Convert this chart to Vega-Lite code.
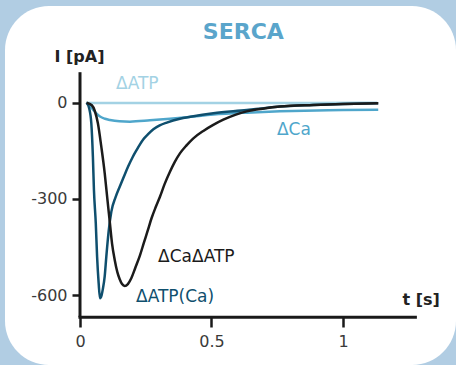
{
  "$schema": "https://vega.github.io/schema/vega-lite/v6.json",
  "width": 451,
  "height": 359,
  "autosize": "none",
  "padding": {"left": 5, "top": 6, "right": 0, "bottom": 0},
  "background": "#b1cde3",
  "view": {"fill": "white", "stroke": null, "cornerRadius": 44},
  "config": {"font": "DejaVu Sans"},
  "datasets": {
    "curves": [
      {"s": "ΔATP", "t": 0.025, "I": 0},
      {"s": "ΔATP", "t": 0.1, "I": -1},
      {"s": "ΔATP", "t": 0.3, "I": -1},
      {"s": "ΔATP", "t": 0.6, "I": -1},
      {"s": "ΔATP", "t": 0.9, "I": -1},
      {"s": "ΔATP", "t": 1.13, "I": 0},

      {"s": "ΔCa", "t": 0.025, "I": 0},
      {"s": "ΔCa", "t": 0.04, "I": -12},
      {"s": "ΔCa", "t": 0.051, "I": -23},
      {"s": "ΔCa", "t": 0.063, "I": -34},
      {"s": "ΔCa", "t": 0.076, "I": -43},
      {"s": "ΔCa", "t": 0.095, "I": -50},
      {"s": "ΔCa", "t": 0.114, "I": -54},
      {"s": "ΔCa", "t": 0.15, "I": -58},
      {"s": "ΔCa", "t": 0.19, "I": -59},
      {"s": "ΔCa", "t": 0.266, "I": -55},
      {"s": "ΔCa", "t": 0.342, "I": -50},
      {"s": "ΔCa", "t": 0.42, "I": -44},
      {"s": "ΔCa", "t": 0.507, "I": -37},
      {"s": "ΔCa", "t": 0.634, "I": -31},
      {"s": "ΔCa", "t": 0.76, "I": -27},
      {"s": "ΔCa", "t": 0.9, "I": -24},
      {"s": "ΔCa", "t": 1.0, "I": -23},
      {"s": "ΔCa", "t": 1.134, "I": -22},

      {"s": "ΔATP(Ca)", "t": 0.025, "I": 0},
      {"s": "ΔATP(Ca)", "t": 0.035, "I": -18},
      {"s": "ΔATP(Ca)", "t": 0.043, "I": -64},
      {"s": "ΔATP(Ca)", "t": 0.049, "I": -168},
      {"s": "ΔATP(Ca)", "t": 0.053, "I": -272},
      {"s": "ΔATP(Ca)", "t": 0.06, "I": -376},
      {"s": "ΔATP(Ca)", "t": 0.065, "I": -480},
      {"s": "ΔATP(Ca)", "t": 0.071, "I": -563},
      {"s": "ΔATP(Ca)", "t": 0.076, "I": -609},
      {"s": "ΔATP(Ca)", "t": 0.082, "I": -600},
      {"s": "ΔATP(Ca)", "t": 0.087, "I": -580},
      {"s": "ΔATP(Ca)", "t": 0.094, "I": -540},
      {"s": "ΔATP(Ca)", "t": 0.1, "I": -480},
      {"s": "ΔATP(Ca)", "t": 0.109, "I": -400},
      {"s": "ΔATP(Ca)", "t": 0.119, "I": -340},
      {"s": "ΔATP(Ca)", "t": 0.135, "I": -295},
      {"s": "ΔATP(Ca)", "t": 0.151, "I": -262},
      {"s": "ΔATP(Ca)", "t": 0.167, "I": -230},
      {"s": "ΔATP(Ca)", "t": 0.183, "I": -199},
      {"s": "ΔATP(Ca)", "t": 0.2, "I": -170},
      {"s": "ΔATP(Ca)", "t": 0.215, "I": -148},
      {"s": "ΔATP(Ca)", "t": 0.228, "I": -130},
      {"s": "ΔATP(Ca)", "t": 0.241, "I": -114},
      {"s": "ΔATP(Ca)", "t": 0.258, "I": -99},
      {"s": "ΔATP(Ca)", "t": 0.279, "I": -83},
      {"s": "ΔATP(Ca)", "t": 0.303, "I": -71},
      {"s": "ΔATP(Ca)", "t": 0.33, "I": -62},
      {"s": "ΔATP(Ca)", "t": 0.38, "I": -50},
      {"s": "ΔATP(Ca)", "t": 0.42, "I": -44},
      {"s": "ΔATP(Ca)", "t": 0.507, "I": -33},
      {"s": "ΔATP(Ca)", "t": 0.634, "I": -23},
      {"s": "ΔATP(Ca)", "t": 0.7, "I": -17},
      {"s": "ΔATP(Ca)", "t": 0.76, "I": -12},
      {"s": "ΔATP(Ca)", "t": 0.887, "I": -7},
      {"s": "ΔATP(Ca)", "t": 1.0, "I": -4},
      {"s": "ΔATP(Ca)", "t": 1.134, "I": -2},

      {"s": "ΔCaΔATP", "t": 0.025, "I": 0},
      {"s": "ΔCaΔATP", "t": 0.045, "I": -8},
      {"s": "ΔCaΔATP", "t": 0.056, "I": -25},
      {"s": "ΔCaΔATP", "t": 0.068, "I": -64},
      {"s": "ΔCaΔATP", "t": 0.081, "I": -137},
      {"s": "ΔCaΔATP", "t": 0.094, "I": -220},
      {"s": "ΔCaΔATP", "t": 0.104, "I": -300},
      {"s": "ΔCaΔATP", "t": 0.113, "I": -370},
      {"s": "ΔCaΔATP", "t": 0.122, "I": -440},
      {"s": "ΔCaΔATP", "t": 0.132, "I": -490},
      {"s": "ΔCaΔATP", "t": 0.142, "I": -528},
      {"s": "ΔCaΔATP", "t": 0.151, "I": -550},
      {"s": "ΔCaΔATP", "t": 0.16, "I": -565},
      {"s": "ΔCaΔATP", "t": 0.17, "I": -571},
      {"s": "ΔCaΔATP", "t": 0.182, "I": -565},
      {"s": "ΔCaΔATP", "t": 0.195, "I": -547},
      {"s": "ΔCaΔATP", "t": 0.21, "I": -515},
      {"s": "ΔCaΔATP", "t": 0.227, "I": -478},
      {"s": "ΔCaΔATP", "t": 0.243, "I": -436},
      {"s": "ΔCaΔATP", "t": 0.258, "I": -397},
      {"s": "ΔCaΔATP", "t": 0.272, "I": -360},
      {"s": "ΔCaΔATP", "t": 0.288, "I": -325},
      {"s": "ΔCaΔATP", "t": 0.304, "I": -293},
      {"s": "ΔCaΔATP", "t": 0.322, "I": -253},
      {"s": "ΔCaΔATP", "t": 0.342, "I": -215},
      {"s": "ΔCaΔATP", "t": 0.36, "I": -185},
      {"s": "ΔCaΔATP", "t": 0.38, "I": -158},
      {"s": "ΔCaΔATP", "t": 0.405, "I": -133},
      {"s": "ΔCaΔATP", "t": 0.431, "I": -111},
      {"s": "ΔCaΔATP", "t": 0.469, "I": -88},
      {"s": "ΔCaΔATP", "t": 0.505, "I": -70},
      {"s": "ΔCaΔATP", "t": 0.545, "I": -53},
      {"s": "ΔCaΔATP", "t": 0.59, "I": -38},
      {"s": "ΔCaΔATP", "t": 0.634, "I": -27},
      {"s": "ΔCaΔATP", "t": 0.7, "I": -18},
      {"s": "ΔCaΔATP", "t": 0.76, "I": -12},
      {"s": "ΔCaΔATP", "t": 0.887, "I": -7},
      {"s": "ΔCaΔATP", "t": 1.0, "I": -4},
      {"s": "ΔCaΔATP", "t": 1.134, "I": -2}
    ],
    "labels": [
      {"s": "ΔATP", "t": 0.137, "I": 58, "label": "ΔATP"},
      {"s": "ΔCa", "t": 0.749, "I": -86, "label": "ΔCa"},
      {"s": "ΔCaΔATP", "t": 0.297, "I": -481, "label": "ΔCaΔATP"},
      {"s": "ΔATP(Ca)", "t": 0.213, "I": -606, "label": "ΔATP(Ca)"}
    ]
  },
  "layer": [
    {
      "data": {"values": [{}]},
      "mark": {"type": "rule", "color": "#1a1a1a", "strokeWidth": 3},
      "encoding": {
        "x": {"datum": 0, "type": "quantitative", "scale": {"domain": [-0.2852, 1.4297], "nice": false, "zero": false},
          "axis": {"values": [0, 0.5, 1], "offset": -48, "domain": false, "grid": false, "tickSize": 10, "tickWidth": 2.5, "tickColor": "#1a1a1a", "labelFontSize": 16, "labelColor": "#3a3a3a", "labelPadding": 6, "labelExpr": "datum.value + ''", "title": null}},
        "y": {"datum": 95, "type": "quantitative", "scale": {"domain": [-817.1, 301.2], "nice": false, "zero": false},
          "axis": {"values": [0, -300, -600], "offset": -75, "domain": false, "grid": false, "tickSize": 8, "tickWidth": 2.5, "tickColor": "#1a1a1a", "labelFontSize": 16, "labelColor": "#3a3a3a", "labelPadding": 5, "labelExpr": "datum.value + ''", "title": null}},
        "y2": {"datum": -668}
      }
    },
    {
      "data": {"values": [{}]},
      "mark": {"type": "rule", "color": "#1a1a1a", "strokeWidth": 3},
      "encoding": {
        "x": {"datum": -0.006, "type": "quantitative"},
        "x2": {"datum": 1.281},
        "y": {"datum": -668, "type": "quantitative"}
      }
    },
    {
      "data": {"name": "curves"},
      "mark": {"type": "line", "strokeWidth": 2.5, "interpolate": "monotone"},
      "encoding": {
        "x": {"field": "t", "type": "quantitative"},
        "y": {"field": "I", "type": "quantitative"},
        "color": {"field": "s", "type": "nominal", "legend": null,
          "scale": {"domain": ["ΔATP", "ΔCa", "ΔATP(Ca)", "ΔCaΔATP"], "range": ["#a3d2e4", "#4fa6cb", "#0f4f6e", "#1b1b1b"]}},
        "order": {"field": "t", "type": "quantitative"}
      }
    },
    {
      "data": {"name": "labels"},
      "mark": {"type": "text", "align": "left", "baseline": "middle", "fontSize": 17},
      "encoding": {
        "x": {"field": "t", "type": "quantitative"},
        "y": {"field": "I", "type": "quantitative"},
        "text": {"field": "label"},
        "color": {"field": "s", "type": "nominal", "legend": null}
      }
    },
    {
      "data": {"values": [{}]},
      "mark": {"type": "text", "align": "center", "baseline": "middle", "fontSize": 22, "fontWeight": "bold", "color": "#5aa5cb", "text": "SERCA"},
      "encoding": {"x": {"datum": 0.621, "type": "quantitative"}, "y": {"datum": 220, "type": "quantitative"}}
    },
    {
      "data": {"values": [{}]},
      "mark": {"type": "text", "align": "left", "baseline": "middle", "fontSize": 16, "fontWeight": "bold", "color": "#222222", "text": "I [pA]"},
      "encoding": {"x": {"datum": -0.097, "type": "quantitative"}, "y": {"datum": 143, "type": "quantitative"}}
    },
    {
      "data": {"values": [{}]},
      "mark": {"type": "text", "align": "left", "baseline": "middle", "fontSize": 16, "fontWeight": "bold", "color": "#222222", "text": "t [s]"},
      "encoding": {"x": {"datum": 1.226, "type": "quantitative"}, "y": {"datum": -615, "type": "quantitative"}}
    }
  ]
}
